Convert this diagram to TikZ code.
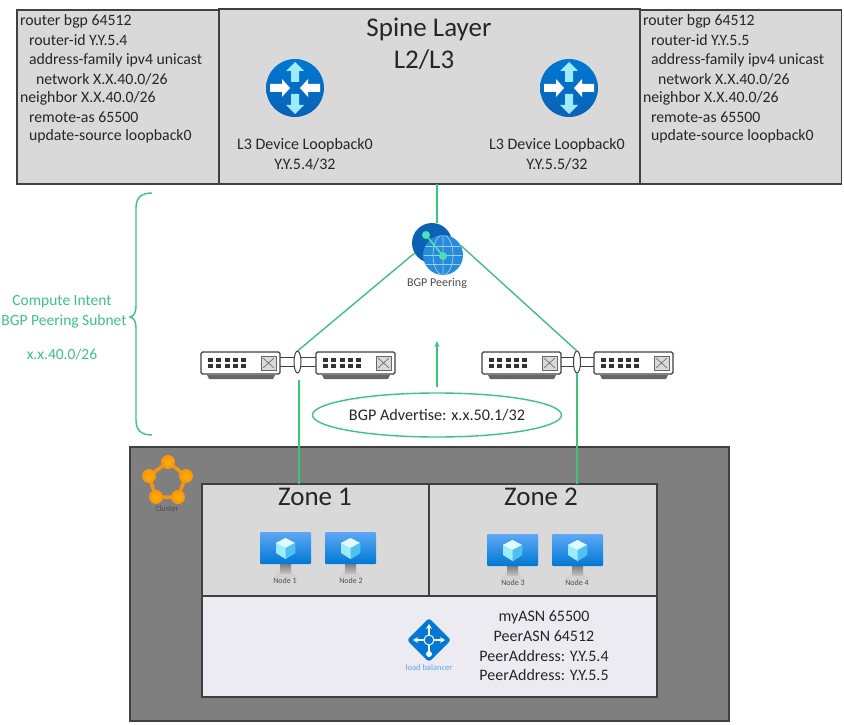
\documentclass[tikz,border=0pt]{standalone}
\usepackage{fontspec}
\setmainfont{Carlito}
\usetikzlibrary{arrows.meta,shapes.geometric}
\definecolor{gline}{HTML}{3CC47F}
\definecolor{panelgray}{HTML}{D9D9D9}
\definecolor{darkgray}{HTML}{7F7F7F}
\definecolor{edgegray}{HTML}{404040}
\definecolor{lbpanel}{HTML}{EDEBF2}
\definecolor{azure}{HTML}{0078D4}
\definecolor{azuredark}{HTML}{0A62B4}
\definecolor{azurelight}{HTML}{5EA8F5}
\definecolor{cyanlight}{HTML}{9CEBFF}
\definecolor{orangeic}{HTML}{F7930F}
\definecolor{mint}{HTML}{4FE0B0}
\newcommand{\fs}[1]{\fontsize{#1}{#1}\selectfont}
\tikzset{
  x=1pt,y=-1pt,
  panel/.style={draw=edgegray,line width=1.3pt,fill=panelgray,inner sep=0pt,outer sep=0pt},
  dark/.style={panel,fill=darkgray},
  lb/.style={panel,fill=lbpanel},
  glink/.style={draw=gline,line width=1.4pt},
  plain/.style={inner sep=0pt,outer sep=0pt,text=black!85},
  config/.style={plain,anchor=west,font=\fs{15.8}},
  title/.style={plain,font=\fs{27}},
  label/.style={plain,font=\fs{16},align=center},
  green text/.style={plain,text=gline,font=\fs{15.5}},
  tiny/.style={plain,font=\fs{8},text=black!70},
  lag/.style={draw=black!75,fill=white,line width=1pt,ellipse,minimum width=7,minimum height=22,inner sep=0pt,outer sep=0pt},
  routericon/.pic={
    \shade[top color=azure,bottom color=azuredark] (0,0) circle (29);
    \foreach \a in {0,180}
      \fill[cyanlight,rotate=\a] (-4,-6)--(-4,-17)--(-9,-17)--(0,-26)--(9,-17)--(4,-17)--(4,-6)--cycle;
    \foreach \a in {90,270}
      \fill[white,rotate=\a] (-4,-25)--(-4,-13)--(-9,-13)--(0,-5)--(9,-13)--(4,-13)--(4,-25)--cycle;
  },
  switchicon/.pic={
    \fill[black!60] (6,23)--(74,23)--(72,27)--(8,27)--cycle;
    \draw[black!75,fill=white,line width=1.3pt,rounded corners=1.5pt] (0,0) rectangle (79,22);
    \foreach \k in {0,1,2,3,4}{
      \fill[black!80] (7+\k*8.3,6) rectangle (12+\k*8.3,9.5);
      \fill[black!80] (7+\k*8.3,12) rectangle (12+\k*8.3,15.5);
    }
    \draw[black!60,fill=black!15,line width=.8pt] (60,4) rectangle (75,18);
    \draw[black!60,line width=.6pt] (62,6)--(73,16) (73,6)--(62,16);
  },
  monitoricon/.pic={
    \fill[black!18] (13,46)--(20,38)--(31,38)--(38,46)--cycle;
    \shade[top color=black!50,bottom color=black!25] (20,32) rectangle (31,41);
    \shade[top color=azurelight,bottom color=azure,rounded corners=1pt] (0,0) rectangle (51,32);
    \fill[cyanlight] (25.5,6)--(35,11)--(35,21)--(25.5,27)--(16,21)--(16,11)--cycle;
    \fill[white!70!cyanlight] (25.5,6)--(35,11)--(25.5,16)--(16,11)--cycle;
    \fill[cyan!50!cyanlight] (25.5,16)--(35,11)--(35,21)--(25.5,27)--cycle;
  },
}
\begin{document}
\begin{tikzpicture}[line join=miter]
\useasboundingbox (0,0) rectangle (844,725);
% top panels
\node[panel,minimum width=202,minimum height=174] (bgpL) at (118,97) {};
\node[panel,minimum width=202,minimum height=174] (bgpR) at (740.5,97) {};
\node[panel,minimum width=421,minimum height=175] (spine) at (429.5,96.5) {};
\node[title] at (429,29) {Spine Layer};
\node[title] at (424,60) {L2/L3};
\pic at (295,88) {routericon};
\pic at (569,88) {routericon};
\node[label] at (305,145) {L3 Device Loopback0};
\node[label] at (305,164) {Y.Y.5.4/32};
\node[label] at (557,145) {L3 Device Loopback0};
\node[label] at (557,164) {Y.Y.5.5/32};
% left config
\node[config] at (20,21) {router bgp 64512};
\node[config] at (29,40) {router-id Y.Y.5.4};
\node[config] at (29,60) {address-family ipv4 unicast};
\node[config] at (36,79) {network X.X.40.0/26};
\node[config] at (20,98) {neighbor X.X.40.0/26};
\node[config] at (29,117) {remote-as 65500};
\node[config] at (29,136) {update-source loopback0};
% right config
\node[config] at (643,21) {router bgp 64512};
\node[config] at (651,40) {router-id Y.Y.5.5};
\node[config] at (651,60) {address-family ipv4 unicast};
\node[config] at (658,79) {network X.X.40.0/26};
\node[config] at (643,98) {neighbor X.X.40.0/26};
\node[config] at (651,117) {remote-as 65500};
\node[config] at (651,136) {update-source loopback0};
% brace
\draw[glink] (152,193) .. controls (141,193) and (136,198) .. (136,208) -- (136,305)
  .. controls (136,313) and (134,316) .. (130,317) .. controls (134,318) and (136,321) .. (136,329)
  -- (136,420) .. controls (136,430) and (141,435) .. (152,435);
\node[green text] at (62,302) {Compute Intent};
\node[green text] at (64,321) {BGP Peering Subnet};
\node[green text] at (62,354) {x.x.40.0/26};
% lower panel
\node[dark,minimum width=599,minimum height=274] (cluster) at (429.5,584) {};
\node[panel,minimum width=227,minimum height=112] (zone1) at (315.5,540) {};
\node[panel,minimum width=228,minimum height=112] (zone2) at (543,540) {};
\node[lb,minimum width=455,minimum height=101] (lbbox) at (429.5,646.5) {};
\node[title] at (315,497) {Zone 1};
\node[title] at (541,497) {Zone 2};
\pic at (260,532) {monitoricon};
\pic at (325,532) {monitoricon};
\pic at (487,534) {monitoricon};
\pic at (552,534) {monitoricon};
\node[tiny] at (285,581) {Node 1};
\node[tiny] at (351,581) {Node 2};
\node[tiny] at (513,583) {Node 3};
\node[tiny] at (577,583) {Node 4};
% cluster icon
\draw[orangeic,line width=3.5pt] (168,462)--(186,476)--(178,497)--(156,497)--(149,476)--cycle;
\foreach \p in {(168,462),(186,476),(178,497),(156,497),(149,476)}
  \shade[inner color=orange!60!yellow,outer color=orangeic] \p circle (7);
\node[tiny] at (167,509) {Cluster};
% load balancer icon
\fill[azure,rounded corners=3pt] (429,618)--(451,640)--(429,662)--(407,640)--cycle;
\draw[white,line width=2pt,-{Stealth[length=5pt,width=6pt]}] (429,640)--(429,624);
\draw[white,line width=2pt,-{Stealth[length=5pt,width=6pt]}] (429,640)--(413,640);
\draw[white,line width=2pt,-{Stealth[length=5pt,width=6pt]}] (429,640)--(445,640);
\draw[white,line width=2pt] (429,640)--(429,652);
\fill[white] (429,654) circle (3);
\fill[azure,draw=white,line width=1pt] (429,640) circle (5);
\node[tiny,font=\fs{8.5},text=azurelight] at (429,668) {load balancer};
\node[label] at (544,617) {myASN 65500};
\node[label] at (544,636) {PeerASN 64512};
\node[label] at (544,656) {PeerAddress: Y.Y.5.4};
\node[label] at (544,675) {PeerAddress: Y.Y.5.5};
% switches
\pic at (201,352) {switchicon};
\pic at (316,352) {switchicon};
\pic at (482,352) {switchicon};
\pic at (594,352) {switchicon};
\draw[black!75,line width=1pt] (280,357)--(316,357) (280,366)--(316,366);
\draw[black!75,line width=1pt] (561,357)--(594,357) (561,366)--(594,366);
\node[lag] (lagL) at (297.5,362) {};
\node[lag] (lagR) at (577,362) {};
% BGP peering
\node[circle,minimum size=40,inner sep=0pt,outer sep=0pt,fill=azuredark] (peerA) at (432,243) {};
\node[circle,minimum size=40,inner sep=0pt,outer sep=0pt,fill=azure!85!white] (peerB) at (443,255) {};
\begin{scope}
\clip (443,255) circle (19.5);
\draw[azurelight!60!white,line width=.7pt] (423,255)--(463,255) (423,246)--(463,246) (423,264)--(463,264);
\draw[azurelight!60!white,line width=.7pt] (443,235)--(443,275) (443,255) ellipse (10 and 20);
\end{scope}
\draw[mint,line width=1.6pt] (426,235)--(443,256);
\fill[mint] (426,235) circle (4) (443,256) circle (4);
\node[tiny,font=\fs{12}] (peerlabel) at (437,283) {BGP Peering};
% connectors
\coordinate (spineB) at (437,184);
\coordinate (lagLin) at (299,484);
\coordinate (lagRin) at (577,484);
\draw[glink] (spineB) -- (peerA.north -| spineB);
\draw[glink] (peerA.210) -- (lagL.north);
\draw[glink] (peerB.30) -- (lagR.north);
\draw[glink] (299,380) -- (lagLin);
\draw[glink] (lagR.south) -- (lagRin);
\node[draw=gline,line width=1.4pt,ellipse,minimum width=246,minimum height=44,inner sep=0pt,outer sep=0pt,font=\fs{16.2},text=black!85] (adv) at (437,415) {BGP Advertise: x.x.50.1/32};
\draw[glink,-{Stealth[length=6pt,width=5pt]}] (437,387) -- (437,341);
\end{tikzpicture}
\end{document}
